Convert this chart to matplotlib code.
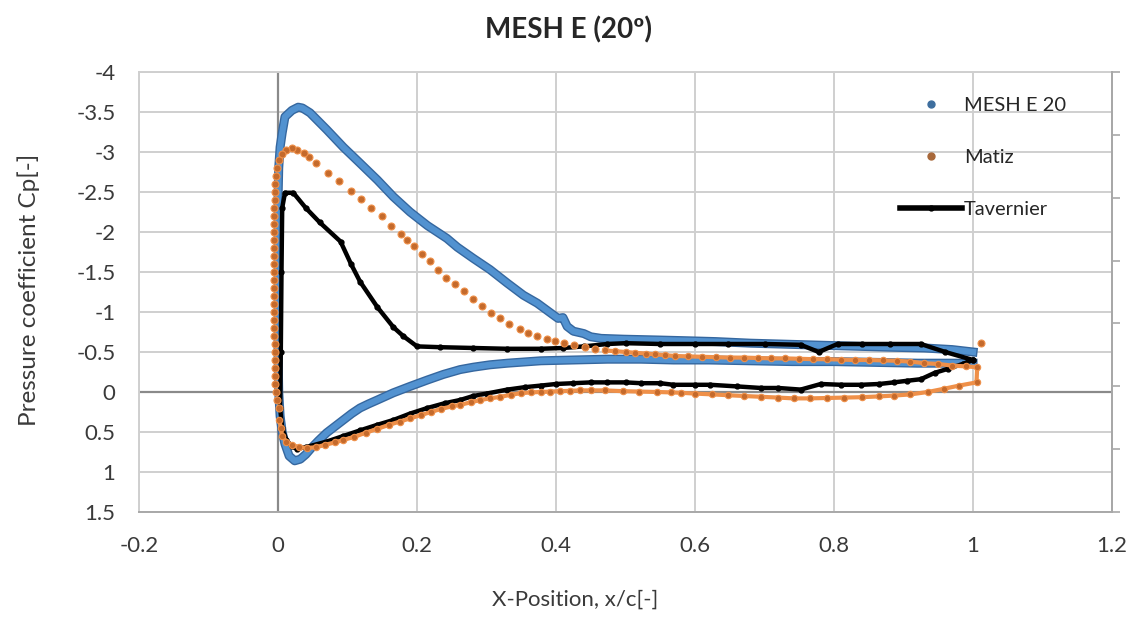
import numpy as np
import matplotlib.pyplot as plt
import matplotlib.patheffects as pe
from matplotlib.lines import Line2D

plt.rcParams['font.family'] = ['Lato', 'DejaVu Sans']

# --- MESH E 20 (blue), trailing edge upper -> leading edge -> trailing edge lower
mesh_x = [1.0, 0.97, 0.93, 0.88, 0.84, 0.80, 0.76, 0.72, 0.68, 0.63, 0.59, 0.546,
          0.497, 0.465, 0.45, 0.44, 0.425, 0.416, 0.41, 0.403, 0.395, 0.373, 0.353,
          0.33, 0.305, 0.281, 0.258, 0.243, 0.215, 0.19, 0.166, 0.143, 0.118, 0.094,
          0.07, 0.046, 0.035, 0.029, 0.02, 0.01, 0.006, 0.003, 0.001, 0.0, 0.0, 0.0,
          0.0, 0.0, 0.001, 0.003, 0.006, 0.01, 0.016, 0.024, 0.032, 0.04, 0.048,
          0.058, 0.07, 0.082, 0.094, 0.106, 0.118, 0.13, 0.143, 0.166, 0.19, 0.215,
          0.238, 0.262, 0.281, 0.305, 0.33, 0.378, 0.425, 0.474, 0.522, 0.569, 0.62,
          0.68, 0.74, 0.80, 0.86, 0.92, 0.96, 1.0]
mesh_cp = [-0.50, -0.53, -0.55, -0.56, -0.57, -0.58, -0.59, -0.60, -0.61, -0.63, -0.64, -0.65,
           -0.66, -0.67, -0.69, -0.73, -0.76, -0.82, -0.93, -0.92, -0.97, -1.11, -1.21,
           -1.36, -1.53, -1.67, -1.81, -1.92, -2.08, -2.25, -2.44, -2.65, -2.86, -3.06,
           -3.28, -3.49, -3.55, -3.56, -3.52, -3.44, -3.24, -3.06, -2.80, -2.40, -2.00, -1.50,
           -1.00, -0.50, 0.0, 0.30, 0.50, 0.65, 0.80, 0.86, 0.84, 0.78, 0.70,
           0.61, 0.51, 0.43, 0.35, 0.27, 0.20, 0.15, 0.10, 0.01, -0.07, -0.15,
           -0.22, -0.28, -0.31, -0.34, -0.36, -0.39, -0.40, -0.41, -0.41, -0.40, -0.40,
           -0.39, -0.38, -0.38, -0.37, -0.36, -0.36, -0.36]

# --- Matiz (orange): separated dots on suction side and leading edge
matiz_sparse_x = [0.456, 0.441, 0.426, 0.411, 0.398, 0.387, 0.372, 0.360, 0.348, 0.333,
                  0.319, 0.307, 0.294, 0.281, 0.267, 0.254, 0.242, 0.230, 0.218, 0.207,
                  0.196, 0.186, 0.177, 0.163, 0.149, 0.134, 0.120, 0.105, 0.088, 0.072,
                  0.055, 0.045, 0.037, 0.028, 0.020, 0.012, 0.006, 0.002, -0.001, -0.003,
                  -0.004, -0.005, -0.005, -0.006, -0.006, -0.006, -0.006, -0.006, -0.006,
                  -0.006, -0.006, -0.006, -0.006, -0.006, -0.006, -0.006, -0.006, -0.006,
                  -0.006, -0.006, -0.005, -0.005, -0.005, -0.005, -0.005, -0.004, -0.003,
                  -0.002, 0.001]
matiz_sparse_cp = [-0.54, -0.56, -0.59, -0.61, -0.64, -0.66, -0.70, -0.74, -0.79, -0.85,
                   -0.92, -0.99, -1.07, -1.16, -1.26, -1.35, -1.43, -1.53, -1.64, -1.73,
                   -1.82, -1.90, -1.98, -2.08, -2.20, -2.30, -2.41, -2.51, -2.64, -2.74,
                   -2.86, -2.94, -2.99, -3.03, -3.05, -3.03, -2.98, -2.90, -2.80, -2.70,
                   -2.60, -2.50, -2.40, -2.30, -2.20, -2.10, -2.00, -1.90, -1.80,
                   -1.70, -1.60, -1.50, -1.40, -1.30, -1.20, -1.10, -1.00, -0.90,
                   -0.80, -0.70, -0.60, -0.50, -0.40, -0.30, -0.20, -0.10, 0.00,
                   0.10, 0.20]
# dense part: pressure side from leading edge to trailing edge, then suction side back to x=0.47
matiz_dense_x = [0.002, 0.004, 0.006, 0.012, 0.02, 0.03, 0.042, 0.055, 0.068, 0.082, 0.094,
                 0.11, 0.126, 0.143, 0.16, 0.175, 0.19, 0.205, 0.22, 0.235, 0.25, 0.262,
                 0.277, 0.291, 0.305, 0.32, 0.335, 0.349, 0.364, 0.378, 0.392, 0.406,
                 0.42, 0.435, 0.45, 0.47, 0.497, 0.52, 0.546, 0.565, 0.58, 0.60, 0.625,
                 0.647, 0.67, 0.695, 0.72, 0.742, 0.765, 0.79, 0.814, 0.84, 0.865, 0.886,
                 0.91, 0.935, 0.958, 0.98, 1.005, 1.006, 0.99, 0.97, 0.95, 0.93, 0.91,
                 0.89, 0.87, 0.85, 0.83, 0.81, 0.79, 0.77, 0.75, 0.73, 0.71, 0.69, 0.67,
                 0.65, 0.63, 0.61, 0.59, 0.571, 0.557, 0.543, 0.53, 0.514, 0.50, 0.485,
                 0.47]
matiz_dense_cp = [0.35, 0.45, 0.55, 0.62, 0.66, 0.69, 0.70, 0.69, 0.66, 0.63, 0.60,
                  0.56, 0.51, 0.46, 0.41, 0.37, 0.33, 0.29, 0.25, 0.21, 0.18, 0.16,
                  0.13, 0.10, 0.08, 0.06, 0.035, 0.015, 0.005, 0.0, -0.005, -0.01,
                  -0.015, -0.02, -0.02, -0.02, -0.01, -0.005, 0.0, 0.005, 0.01, 0.02, 0.03,
                  0.04, 0.05, 0.06, 0.07, 0.08, 0.08, 0.075, 0.07, 0.065, 0.055, 0.045,
                  0.03, 0.0, -0.04, -0.08, -0.12, -0.31, -0.32, -0.33, -0.35, -0.36, -0.38,
                  -0.39, -0.395, -0.40, -0.40, -0.405, -0.41, -0.41, -0.415, -0.42, -0.42, -0.425, -0.43,
                  -0.43, -0.435, -0.44, -0.445, -0.45, -0.46, -0.47, -0.48, -0.49, -0.50, -0.51,
                  -0.52]
matiz_extra_x = [1.012]
matiz_extra_cp = [-0.61]

# --- Tavernier (black line with markers)
tav_x = [1.0, 0.96, 0.925, 0.88, 0.84, 0.805, 0.778, 0.752, 0.70, 0.647, 0.60, 0.55,
         0.50, 0.474, 0.44, 0.41, 0.378, 0.33, 0.281, 0.233, 0.20, 0.18, 0.166, 0.143,
         0.118, 0.105, 0.09, 0.06, 0.04, 0.022, 0.01, 0.006, 0.005, 0.004, 0.003, 0.006,
         0.012, 0.02, 0.027, 0.04, 0.07, 0.094, 0.118, 0.143, 0.166, 0.19, 0.215, 0.24,
         0.262, 0.281, 0.30, 0.33, 0.355, 0.378, 0.40, 0.425, 0.45, 0.474, 0.50, 0.522,
         0.55, 0.569, 0.60, 0.622, 0.66, 0.695, 0.72, 0.752, 0.781, 0.81, 0.839, 0.865,
         0.886, 0.905, 0.925, 0.945, 0.964, 0.985, 1.0]
tav_cp = [-0.40, -0.50, -0.60, -0.60, -0.60, -0.60, -0.50, -0.59, -0.60, -0.60, -0.60, -0.60,
          -0.61, -0.60, -0.57, -0.55, -0.54, -0.54, -0.55, -0.56, -0.57, -0.70, -0.81, -1.06,
          -1.38, -1.60, -1.88, -2.12, -2.30, -2.49, -2.49, -2.30, -1.50, -0.50, 0.20, 0.45,
          0.60, 0.68, 0.71, 0.69, 0.62, 0.55, 0.48, 0.41, 0.35, 0.27, 0.20, 0.14,
          0.10, 0.05, 0.02, -0.03, -0.06, -0.08, -0.10, -0.11, -0.12, -0.12, -0.12, -0.11,
          -0.11, -0.09, -0.09, -0.09, -0.07, -0.05, -0.05, -0.03, -0.10, -0.09, -0.09, -0.10,
          -0.12, -0.14, -0.16, -0.24, -0.29, -0.35, -0.40]

x_ticks = [-0.2, 0.0, 0.2, 0.4, 0.6, 0.8, 1.0, 1.2]
x_labels = ['-0.2', '0', '0.2', '0.4', '0.6', '0.8', '1', '1.2']
y_ticks = [-4, -3.5, -3, -2.5, -2, -1.5, -1, -0.5, 0, 0.5, 1, 1.5]
y_labels = ['-4', '-3.5', '-3', '-2.5', '-2', '-1.5', '-1', '-0.5', '0', '0.5', '1', '1.5']

blue = '#5292d0'
blue_dark = '#35679f'
orange = '#c46a2c'
orange_light = '#ef9049'

fig = plt.figure(figsize=(11.33, 6.17), dpi=100)
ax = fig.add_axes([0.1227, 0.1702, 0.8588, 0.7131])

ax.set_xlim(-0.2, 1.2)
ax.set_ylim(1.5, -4)
ax.set_xticks(x_ticks)
ax.set_xticklabels(x_labels)
ax.set_yticks(y_ticks)
ax.set_yticklabels(y_labels)
ax.grid(True, color='#cfcfcf', lw=1.4)
ax.set_axisbelow(True)
ax.axhline(0, color='#8a8a8a', lw=1.6, zorder=1)
ax.axvline(0, color='#8a8a8a', lw=1.6, zorder=1)
for s in ['left', 'top']:
    ax.spines[s].set_color('#cfcfcf')
for s in ['bottom', 'right']:
    ax.spines[s].set_color('#a8a8a8')
for s in ax.spines.values():
    s.set_linewidth(1.4)
ax.tick_params(length=0, pad=17, labelsize=16, labelcolor='#3a3a3a')

# blue series: dense points drawn as a thick band
ax.plot(mesh_x, mesh_cp, color=blue, lw=4.5, solid_joinstyle='round', zorder=3,
        path_effects=[pe.Stroke(linewidth=6.5, foreground=blue_dark), pe.Normal()])

# Tavernier
ax.plot(tav_x, tav_cp, color='black', lw=3.2, marker='o', ms=3.5, zorder=4)

# Matiz
ax.plot(matiz_dense_x, matiz_dense_cp, color=orange_light, lw=3, ls='-', marker='o',
        ms=4.6, mfc=orange, mec=orange_light, mew=0.8, zorder=5)
ax.plot(matiz_sparse_x, matiz_sparse_cp, ls='none', marker='o', ms=5,
        mfc=orange, mec=orange_light, mew=0.8, zorder=5)
ax.plot(matiz_extra_x, matiz_extra_cp, ls='none', marker='o', ms=5,
        mfc=orange, mec=orange_light, mew=0.8, zorder=5)

# secondary axis on the right with tick marks only
ax2 = ax.twinx()
ax2.set_ylim(0, 7)
ax2.set_yticks(range(8))
ax2.set_yticklabels([])
ax2.tick_params(axis='y', direction='out', length=6, width=1.2, color='#a8a8a8')
for s in ['left', 'top', 'bottom']:
    ax2.spines[s].set_visible(False)
ax2.spines['right'].set_color('#a8a8a8')
ax2.spines['right'].set_linewidth(1.4)

handles = [
    Line2D([], [], ls='none', marker='o', ms=5, color='#3e6e9e'),
    Line2D([], [], ls='none', marker='o', ms=5, color='#a8683a'),
    Line2D([], [], color='black', lw=4, marker='o', ms=3.5),
]
leg = ax2.legend(handles, ['MESH E 20', 'Matiz', 'Tavernier'], loc='upper left',
                 bbox_to_anchor=(0.772, 0.966), frameon=False, fontsize=14.5,
                 handlelength=3.05, handletextpad=0.1, labelspacing=1.73, borderpad=0)
for t in leg.get_texts():
    t.set_color('#262626')

fig.text(0.502, 0.951, 'MESH E (20º)', ha='center', va='center', fontsize=20,
         fontweight='bold', color='#262626')
fig.text(0.025, 0.53, 'Pressure coefficient Cp[-]', ha='center', va='center',
         rotation=90, fontsize=17.5, color='#3a3a3a')
fig.text(0.508, 0.028, 'X-Position, x/c[-]', ha='center', va='center',
         fontsize=16, color='#3a3a3a')

fig.savefig('out.png', dpi=100)
